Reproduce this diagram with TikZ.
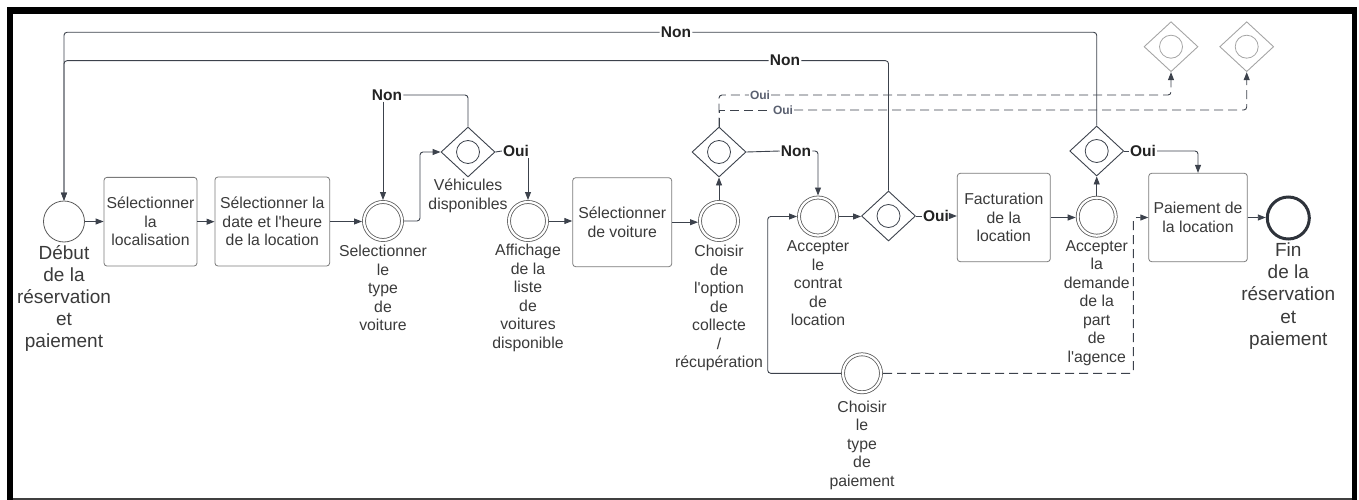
\documentclass[tikz,border=0pt]{standalone}
\usepackage{fontspec}
\setmainfont{Liberation Sans}
\usetikzlibrary{shapes.geometric,arrows.meta,calc}

\definecolor{linec}{HTML}{3C424C}
\definecolor{boxc}{HTML}{7A7A7A}
\definecolor{evc}{HTML}{5A5A5A}
\definecolor{textc}{HTML}{3A3A3A}
\definecolor{ync}{HTML}{222222}
\definecolor{smallc}{HTML}{5A6070}
\definecolor{ghostc}{HTML}{A5A5A5}
\definecolor{endc}{HTML}{2E333B}

\newcommand\lblf{\fontsize{15.8}{18.5}\selectfont}
\newcommand\bigf{\fontsize{19}{22.2}\selectfont}
\newcommand\ynf{\fontsize{15.5}{18}\selectfont\bfseries}
\newcommand\smallf{\fontsize{12}{14}\selectfont\bfseries}
\newcommand\apos{\textquotesingle}

\tikzset{
  flow/.style={draw=linec, line width=0.9pt, rounded corners=3pt},
  arr/.style={-{Triangle[length=8pt,width=6pt]}},
  dashline/.style={dash pattern=on 9pt off 5pt},
  taskbox/.style={rectangle, rounded corners=3pt, draw=boxc, line width=0.8pt,
    align=center, inner sep=0pt, font=\lblf, text=textc},
  evt/.style={circle, draw=evc, double=white, double distance=2.2pt,
    line width=0.8pt, minimum size=38pt, inner sep=0pt, outer sep=2pt},
  startevt/.style={circle, draw=evc, line width=0.8pt, minimum size=41pt, inner sep=0pt},
  endevt/.style={circle, draw=endc, line width=3pt, minimum size=42pt, inner sep=0pt},
  gate/.style={diamond, draw=#1, line width=0.9pt, minimum width=54pt,
    minimum height=50pt, inner sep=0pt, aspect=1.08,
    path picture={\draw[#1, line width=0.8pt] (path picture bounding box.center) circle (11.5pt);}},
  gate/.default=linec,
  lab/.style={align=center, inner sep=0pt, anchor=north, font=\lblf, text=textc},
  biglab/.style={align=center, inner sep=0pt, anchor=north, font=\bigf, text=textc},
  yn/.style={font=\ynf, text=ync, inner sep=1pt},
  ynsmall/.style={font=\smallf, text=smallc, inner sep=1pt},
}

\begin{document}
\begin{tikzpicture}[x=1pt,y=-1pt]
\useasboundingbox (0,0) rectangle (1359,500);

% outer frame
\fill[black] (7,7) rectangle (1357.3,14);
\fill[black] (7,7) rectangle (13.3,500);
\fill[black] (1351.7,7) rectangle (1357.3,500);
\draw[black!75, line width=1.2pt] (13,499) -- (1352,499);

% events and tasks
\node[startevt] (start) at (64,221.5) {};
\node[biglab] at (64,245) {Début\\de la\\réservation\\et\\paiement};

\node[taskbox, minimum width=93pt, minimum height=88.7pt] (loc) at (150.5,221.7)
  {Sélectionner\\la\\localisation};
\node[taskbox, minimum width=114.7pt, minimum height=89pt] (date) at (272.3,221.5)
  {Sélectionner la\\date et l\apos heure\\de la location};

\node[evt] (type) at (383,221) {};
\node[lab] at (383,245) {Selectionner\\le\\type\\de\\voiture};

\node[gate] (dispo) at (468,152) {};
\node[lab] at (468,179) {Véhicules\\disponibles};

\node[evt] (liste) at (528,221) {};
\node[lab] at (528,244) {Affichage\\de la\\liste\\de\\voitures\\disponible};

\node[taskbox, minimum width=99pt, minimum height=89pt] (voit) at (622.2,222.2)
  {Sélectionner\\de voiture};

\node[evt] (option) at (719,221) {};
\node[lab] at (719,245) {Choisir\\de\\l\apos option\\de\\collecte\\/\\récupération};

\node[gate] (optgate) at (719,152) {};

\node[evt] (contrat) at (818,216.5) {};
\node[lab] at (818,240.5) {Accepter\\le\\contrat\\de\\location};

\node[gate] (contgate) at (888.5,216) {};

\node[taskbox, minimum width=93pt, minimum height=88.4pt] (fact) at (1003.8,217.5)
  {Facturation\\de la\\location};

\node[evt] (agence) at (1096.7,216.7) {};
\node[lab] at (1096.7,240) {Accepter\\la\\demande\\de la\\part\\de\\l\apos agence};

\node[gate] (agegate) at (1096.7,151) {};

\node[taskbox, minimum width=98.6pt, minimum height=88.4pt] (paie) at (1198,217.5)
  {Paiement de\\la location};

\node[endevt] (fin) at (1288.3,218) {};
\node[biglab] at (1288.3,242.5) {Fin\\de la\\réservation\\et\\paiement};

\node[evt] (typepaie) at (862,373.3) {};
\node[lab] at (862,400.5) {Choisir\\le\\type\\de\\paiement};

\node[gate=ghostc] (ghostA) at (1171,46.7) {};
\node[gate=ghostc] (ghostB) at (1246.7,46.7) {};

% branch labels
\node[yn] (nonA) at (387,95) {Non};
\node[yn] (ouiA) at (516,151) {Oui};
\node[yn] (nonB) at (796,151) {Non};
\node[yn] (ouiB) at (936,216) {Oui};
\node[yn] (ouiD) at (1143,151) {Oui};
\node[yn] (nonC) at (785,60.7) {Non};
\node[yn] (nonD) at (676,32.3) {Non};
\node[ynsmall] (ouiU) at (760,95) {Oui};
\node[ynsmall] (ouiL) at (783,110) {Oui};

\coordinate (payturn) at (767.7,373.3);
\coordinate (payturnB) at (1133.3,373.3);

% main sequence
\draw[flow,arr] (start.east) -- (start.east -| loc.west);
\draw[flow,arr] (loc.east) -- (loc.east -| date.west);
\draw[flow,arr] (date.east) -- (date.east -| type.west);
\draw[flow,arr] (type.east) -- ++(16,0) |- (dispo.west);
\draw[flow] (dispo.north) |- (nonA.east);
\draw[flow,arr] (nonA.south -| type.north) -- (type.north);
\draw[flow] (dispo.east) -- (ouiA.west);
\draw[flow,arr] (ouiA.south -| liste.north) -- (liste.north);
\draw[flow,arr] (liste.east) -- (liste.east -| voit.west);
\draw[flow,arr] (voit.east) -- (voit.east -| option.west);
\draw[flow,arr] (option.north) -- (optgate.south);
\draw[flow] (optgate.east) -- (nonB.west);
\draw[flow,arr] (nonB.east) -| (contrat.north);
\draw[flow,arr] (contrat.east) -- (contrat.east -| contgate.west);
\draw[flow] (contgate.east) -- (ouiB.west);
\draw[flow,arr] (ouiB.east) -- (ouiB.east -| fact.west);
\draw[flow,arr] (fact.east) -- (fact.east -| agence.west);
\draw[flow,arr] (agence.north) -- (agegate.south);
\draw[flow] (agegate.east) -- (ouiD.west);
\draw[flow,arr] (ouiD.east) -| (paie.north);
\draw[flow,arr] (paie.east) -- (paie.east -| fin.west);

% loops back to the start
\draw[flow] (contgate.north) |- (nonC.east);
\draw[flow,arr] (nonC.west) -| (start.north);
\draw[flow] (agegate.north) |- (nonD.east);
\draw[flow,arr] (nonD.west) -| (start.north);

% dashed branches
\draw[flow,dashline] (optgate.north) |- (ouiU.west);
\draw[flow,dashline,arr] (ouiU.east) -| (ghostA.south);
\draw[flow,dashline,rounded corners=0pt] (optgate.north) |- (ouiL.west);
\draw[flow,dashline,arr] (ouiL.east) -| (ghostB.south);

% payment type
\draw[flow,arr] (typepaie.west) -- (payturn) |- (contrat.west);
\draw[flow,dashline,arr] (typepaie.east) -- (payturnB) |- (paie.west);
\end{tikzpicture}
\end{document}
